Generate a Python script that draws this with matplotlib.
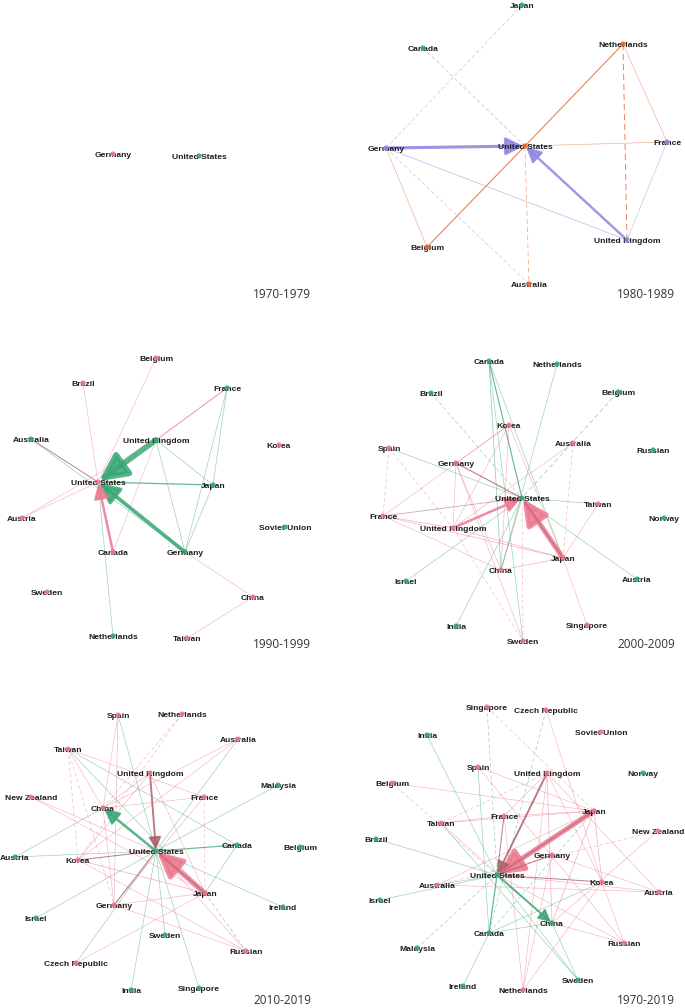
#!/usr/bin/env python3
"""Co-authorship networks between countries, per decade"""

import matplotlib.pyplot as plt

# colour key -> colour
COLORS = {
    "g": "#3aa874",   # green community
    "p": "#ec7990",   # pink community
    "o": "#e8662c",   # orange community
    "v": "#8f87e4",   # purple community
    "d": "#a8626a",   # mixed / dark edges
}

# ---------------- 1970-1979 ----------------
names_7079 = ["Germany", "United States"]
x_7079 = [113, 199]
y_7079 = [154, 156]
group_7079 = ["p", "g"]
edges_7079 = []

# ---------------- 1980-1989 ----------------
names_8089 = ["Japan", "Canada", "Netherlands", "Germany", "United States",
              "France", "United Kingdom", "Belgium", "Australia"]
x_8089 = [522, 423, 623, 386, 525, 667, 627, 427, 529]
y_8089 = [5, 48, 44, 148, 146, 142, 240, 247, 284]
group_8089 = ["g", "g", "o", "v", "o", "v", "v", "o", "o"]
# (source, target, weight, colour key, dashed)
edges_8089 = [
    ("Germany", "United States", 5, "v", False),
    ("Germany", "United States", 1.2, "o", False),
    ("United Kingdom", "United States", 4, "v", False),
    ("Japan", "Germany", 1, "v", True),
    ("Canada", "United States", 1, "g", True),
    ("Netherlands", "United States", 1.8, "o", False),
    ("Netherlands", "France", 1, "o", False),
    ("Netherlands", "United Kingdom", 1.6, "o", True),
    ("United States", "France", 1, "o", False),
    ("United States", "Australia", 1.3, "o", True),
    ("Belgium", "United States", 1.8, "o", False),
    ("Germany", "Belgium", 1, "o", False),
    ("Germany", "United Kingdom", 1.2, "v", False),
    ("Germany", "Australia", 1, "v", True),
    ("France", "United Kingdom", 1, "v", False),
]

# ---------------- 1990-1999 ----------------
names_9099 = ["Belgium", "Brazil", "France", "Australia", "United Kingdom",
              "Korea", "United States", "Japan", "Austria", "Soviet Union",
              "Canada", "Germany", "Sweden", "China", "Netherlands", "Taiwan"]
x_9099 = [156, 83, 227, 31, 156, 279, 98, 213, 22, 285, 113, 185, 47, 253, 113, 187]
y_9099 = [358, 383, 388, 439, 440, 445, 482, 485, 518, 527, 552, 552, 592, 597, 636, 638]
group_9099 = ["p", "p", "g", "g", "g", "p", "p", "g", "p", "g",
              "p", "g", "p", "p", "g", "p"]
edges_9099 = [
    ("United Kingdom", "United States", 9, "g", False),
    ("Germany", "United States", 6, "g", False),
    ("Germany", "United States", 1.2, "p", False),
    ("Canada", "United States", 4, "p", False),
    ("Japan", "United States", 2, "g", False),
    ("Australia", "United States", 1.5, "d", False),
    ("Australia", "Germany", 1, "g", False),
    ("United Kingdom", "France", 1.6, "p", False),
    ("United Kingdom", "Japan", 1, "g", False),
    ("United Kingdom", "Germany", 1, "g", False),
    ("France", "Japan", 1, "g", False),
    ("France", "Germany", 1, "g", False),
    ("Japan", "Germany", 1, "g", False),
    ("Belgium", "United States", 1, "p", False),
    ("Brazil", "United States", 1, "p", False),
    ("Austria", "United States", 1, "p", False),
    ("Austria", "United Kingdom", 1, "p", False),
    ("United Kingdom", "Canada", 1, "p", False),
    ("Germany", "China", 1, "p", False),
    ("China", "Taiwan", 1, "p", False),
    ("Netherlands", "United States", 1, "g", False),
]

# ---------------- 2000-2009 ----------------
names_0009 = ["Canada", "Netherlands", "Brazil", "Belgium", "Korea", "Spain",
              "Australia", "Russian", "Germany", "United States", "Taiwan",
              "France", "Norway", "United Kingdom", "Japan", "China", "Israel",
              "Austria", "India", "Singapore", "Sweden"]
x_0009 = [489, 557, 431, 618, 509, 389, 573, 653, 456, 522, 598,
          383, 664, 453, 563, 501, 406, 637, 456, 587, 523]
y_0009 = [361, 364, 393, 392, 425, 448, 443, 450, 463, 498, 504,
          516, 518, 528, 558, 570, 581, 579, 626, 625, 641]
group_0009 = ["g", "g", "g", "g", "p", "p", "p", "g", "p", "g", "p",
              "p", "g", "p", "p", "p", "g", "g", "g", "p", "p"]
edges_0009 = [
    ("Japan", "United States", 8, "p", False),
    ("United States", "Japan", 1.6, "d", False),
    ("United Kingdom", "United States", 4, "p", False),
    ("Germany", "United States", 1.8, "d", False),
    ("Canada", "United States", 1.8, "g", False),
    ("Canada", "China", 1.2, "g", False),
    ("Canada", "Japan", 1, "g", False),
    ("Canada", "Sweden", 1, "g", False),
    ("France", "United States", 1.3, "d", False),
    ("Israel", "United States", 1, "g", False),
    ("India", "United States", 1, "g", False),
    ("Austria", "United States", 1, "g", False),
    ("Taiwan", "United States", 1, "g", False),
    ("Spain", "United States", 1, "g", False),
    ("Brazil", "United States", 1, "g", True),
    ("Belgium", "United States", 1.2, "g", True),
    ("Netherlands", "China", 1, "g", False),
    ("China", "United States", 1.2, "d", False),
    ("Korea", "Germany", 1, "p", False),
    ("Korea", "United Kingdom", 1, "p", False),
    ("Korea", "France", 1, "p", False),
    ("Korea", "Japan", 1, "p", False),
    ("Korea", "China", 1, "p", False),
    ("Spain", "France", 1, "p", True),
    ("Spain", "United Kingdom", 1, "p", True),
    ("France", "United Kingdom", 1.2, "p", False),
    ("France", "Japan", 1.2, "p", False),
    ("France", "China", 1, "p", False),
    ("United Kingdom", "Japan", 1.2, "p", False),
    ("United Kingdom", "Germany", 1, "p", False),
    ("United Kingdom", "Sweden", 1, "p", True),
    ("Germany", "Sweden", 1, "p", False),
    ("Germany", "China", 1, "p", False),
    ("Australia", "United Kingdom", 1, "p", False),
    ("Australia", "Japan", 1, "p", True),
    ("Taiwan", "Japan", 1, "p", False),
    ("Japan", "China", 1.2, "p", False),
    ("Japan", "Singapore", 1, "p", False),
    ("Sweden", "United States", 1, "p", True),
]

# ---------------- 2010-2019 ----------------
names_1019 = ["Spain", "Netherlands", "Australia", "Taiwan", "United Kingdom",
              "Malaysia", "New Zealand", "France", "China", "United States",
              "Canada", "Belgium", "Austria", "Korea", "Japan", "Ireland",
              "Germany", "Israel", "Sweden", "Russian", "Czech Republic",
              "India", "Singapore"]
x_1019 = [118, 182, 238, 68, 150, 278, 31, 204, 103, 156, 237, 300,
          15, 78, 205, 283, 114, 36, 165, 246, 76, 131, 199]
y_1019 = [715, 714, 739, 749, 773, 785, 797, 797, 808, 851, 845, 847,
          857, 860, 893, 907, 905, 918, 935, 951, 963, 990, 988]
group_1019 = ["p", "p", "p", "p", "p", "g", "p", "p", "p", "g", "g", "g",
              "g", "p", "p", "g", "p", "g", "g", "p", "p", "g", "g"]
edges_1019 = [
    ("Japan", "United States", 8, "p", False),
    ("United States", "Japan", 1.6, "d", False),
    ("United States", "China", 4, "g", False),
    ("United Kingdom", "United States", 3, "d", False),
    ("Germany", "United States", 1.6, "d", False),
    ("Korea", "United States", 1.6, "d", False),
    ("Canada", "United States", 1.8, "g", False),
    ("Austria", "United States", 1, "g", False),
    ("Israel", "United States", 1, "g", False),
    ("Malaysia", "United States", 1, "g", False),
    ("Australia", "United States", 1, "g", False),
    ("India", "United States", 1, "g", False),
    ("Singapore", "United States", 1, "g", False),
    ("Sweden", "United States", 1, "g", False),
    ("Ireland", "United States", 1, "g", False),
    ("Spain", "United States", 1, "g", False),
    ("Taiwan", "Canada", 1, "g", False),
    ("Taiwan", "Japan", 1, "g", False),
    ("Austria", "China", 1, "g", False),
    ("Japan", "Canada", 1, "g", False),
    ("Czech Republic", "United States", 1, "g", False),
    ("Japan", "Russian", 1, "g", True),
    ("Taiwan", "China", 1, "p", False),
    ("Taiwan", "Korea", 1, "p", True),
    ("Taiwan", "Germany", 1, "p", True),
    ("Taiwan", "France", 1, "p", False),
    ("Netherlands", "China", 1, "p", True),
    ("Netherlands", "Korea", 1, "p", True),
    ("Spain", "China", 1, "p", False),
    ("Spain", "Germany", 1, "p", False),
    ("United Kingdom", "China", 1, "p", False),
    ("United Kingdom", "Korea", 1, "p", False),
    ("United Kingdom", "Japan", 1, "p", False),
    ("France", "China", 1, "p", False),
    ("France", "Japan", 1, "p", True),
    ("France", "Germany", 1, "p", False),
    ("New Zealand", "United States", 1, "p", False),
    ("New Zealand", "Japan", 1, "p", False),
    ("Korea", "Japan", 1.2, "p", False),
    ("Korea", "Russian", 1, "p", False),
    ("Germany", "Japan", 1, "p", False),
    ("Germany", "Russian", 1, "p", False),
    ("Czech Republic", "Japan", 1, "p", False),
    ("Australia", "China", 1, "p", False),
    ("Australia", "Korea", 1, "p", False),
    ("United States", "Russian", 1, "p", False),
    ("China", "Germany", 1, "p", False),
]

# ---------------- 1970-2019 ----------------
names_7019 = ["Singapore", "Czech Republic", "India", "Soviet Union", "Spain",
              "United Kingdom", "Norway", "Belgium", "Japan", "France",
              "Taiwan", "New Zealand", "Brazil", "Germany", "United States",
              "Korea", "Australia", "Austria", "Israel", "China", "Canada",
              "Malaysia", "Russian", "Sweden", "Ireland", "Netherlands"]
x_7019 = [487, 546, 427, 601, 478, 547, 643, 392, 594, 504, 441, 658, 376,
          552, 497, 602, 437, 659, 380, 552, 489, 417, 624, 578, 463, 523]
y_7019 = [707, 710, 735, 732, 767, 773, 773, 783, 811, 816, 823, 831, 839,
          855, 875, 882, 885, 892, 900, 923, 933, 948, 943, 980, 986, 990]
group_7019 = ["p", "p", "g", "p", "p", "p", "g", "p", "p", "p", "p", "p", "g",
              "p", "g", "p", "p", "p", "g", "g", "g", "g", "p", "g", "g", "p"]
edges_7019 = [
    ("Japan", "United States", 8, "p", False),
    ("United States", "Japan", 1.6, "d", False),
    ("United Kingdom", "United States", 3, "d", False),
    ("United States", "China", 3, "g", False),
    ("Germany", "United States", 1.6, "d", False),
    ("France", "United States", 1.6, "d", False),
    ("Korea", "United States", 1.6, "d", False),
    ("Canada", "United States", 2, "g", False),
    ("India", "United States", 1, "g", False),
    ("Brazil", "United States", 1, "g", False),
    ("Israel", "United States", 1, "g", False),
    ("Malaysia", "United States", 1, "g", True),
    ("Ireland", "Canada", 1, "g", False),
    ("Singapore", "United States", 1, "g", True),
    ("Czech Republic", "Canada", 1, "g", True),
    ("Spain", "Canada", 1, "g", False),
    ("Sweden", "United States", 1, "g", False),
    ("Sweden", "China", 1, "g", False),
    ("Taiwan", "Sweden", 1, "g", False),
    ("Korea", "Canada", 1, "g", False),
    ("China", "Canada", 1, "g", False),
    ("Japan", "Canada", 1, "g", True),
    ("Australia", "United States", 1, "g", False),
    ("Singapore", "Japan", 1, "p", True),
    ("Czech Republic", "Korea", 1, "p", False),
    ("Spain", "Japan", 1, "p", False),
    ("Spain", "Russian", 1, "p", False),
    ("Belgium", "United States", 1, "p", True),
    ("Belgium", "Japan", 1, "p", False),
    ("United Kingdom", "Korea", 1, "p", False),
    ("United Kingdom", "China", 1.2, "p", False),
    ("United Kingdom", "France", 1, "p", False),
    ("United Kingdom", "Austria", 1, "p", False),
    ("United Kingdom", "Taiwan", 1, "p", True),
    ("Japan", "China", 1.2, "p", False),
    ("Japan", "Korea", 1.2, "p", False),
    ("Japan", "France", 1, "p", False),
    ("Japan", "Taiwan", 1, "p", False),
    ("Japan", "Australia", 1, "p", False),
    ("New Zealand", "Australia", 1, "p", True),
    ("New Zealand", "China", 1, "p", False),
    ("Austria", "United States", 1, "p", False),
    ("Austria", "Germany", 1, "p", False),
    ("Korea", "Russian", 1, "p", False),
    ("China", "Russian", 1, "p", False),
    ("Netherlands", "United Kingdom", 1, "p", False),
    ("Netherlands", "Korea", 1, "p", False),
    ("Netherlands", "France", 1, "p", False),
    ("Germany", "Netherlands", 1, "p", False),
    ("Taiwan", "China", 1, "p", False),
    ("Australia", "Austria", 1, "p", False),
    ("France", "Taiwan", 1, "p", False),
    ("Russian", "United States", 1, "p", False),
]

years = ["1970-1979", "1980-1989", "1990-1999", "2000-2009", "2010-2019", "1970-2019"]


def draw_network(ax, names, xs, ys, groups, edges, year, year_xy):
    pos = {n: (x, y) for n, x, y in zip(names, xs, ys)}

    for a, b, w, ck, dashed in edges:
        (xa, ya), (xb, yb) = pos[a], pos[b]
        col = COLORS[ck]
        lw = 0.45 * w
        if w >= 2.5:
            # strong directed tie, drawn with an arrow head at the target
            ax.annotate("", xy=(xb, yb), xytext=(xa, ya),
                        arrowprops=dict(arrowstyle="-|>,head_length=1.0,head_width=0.5",
                                        color=col, lw=lw, alpha=0.85,
                                        mutation_scale=1.5 * w + 3,
                                        shrinkA=0, shrinkB=1),
                        zorder=2)
        else:
            ax.plot([xa, xb], [ya, yb], color=col, lw=lw,
                    alpha=0.55 if w < 1.5 else 0.8,
                    ls=(0, (6, 4)) if dashed else "-", zorder=2.5 if ck == "d" else 1)

    for n, x, y, g in zip(names, xs, ys, groups):
        ax.text(x, y + 1.5, n, ha="center", va="center", fontsize=6.1,
                fontweight="bold", family="Liberation Sans", color="#1e1e1e",
                zorder=3)
        ax.scatter([x], [y], s=14, color=COLORS[g], edgecolors="none",
                   alpha=0.9, zorder=4)

    ax.text(year_xy[0], year_xy[1], year, ha="right", va="center",
            fontsize=8.5, family="Open Sans", color="#333333", zorder=5)


def main():
    fig = plt.figure(figsize=(6.85, 10.08), dpi=100)
    ax = fig.add_axes([0, 0, 1, 1])
    ax.set_xlim(0, 685)
    ax.set_ylim(1008, 0)
    ax.axis("off")

    draw_network(ax, names_7079, x_7079, y_7079, group_7079, edges_7079, years[0], (311, 294))
    draw_network(ax, names_8089, x_8089, y_8089, group_8089, edges_8089, years[1], (675, 294))
    draw_network(ax, names_9099, x_9099, y_9099, group_9099, edges_9099, years[2], (311, 645))
    draw_network(ax, names_0009, x_0009, y_0009, group_0009, edges_0009, years[3], (675, 645))
    draw_network(ax, names_1019, x_1019, y_1019, group_1019, edges_1019, years[4], (311, 1001))
    draw_network(ax, names_7019, x_7019, y_7019, group_7019, edges_7019, years[5], (675, 1001))

    fig.savefig("out.png", dpi=100)
    plt.close()


if __name__ == "__main__":
    main()
